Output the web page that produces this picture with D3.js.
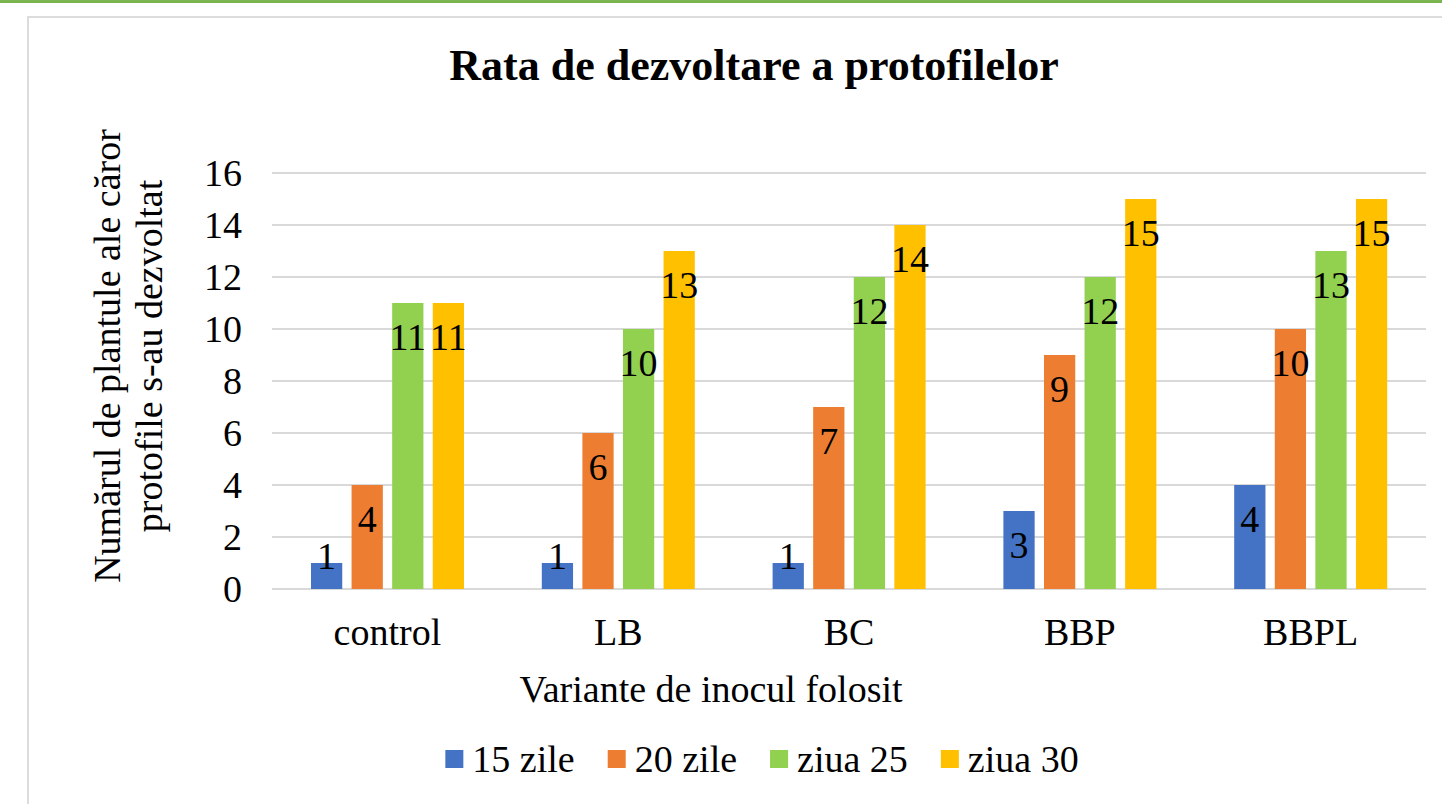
<!DOCTYPE html>
<html>
<head>
<meta charset="utf-8">
<script src="https://cdn.jsdelivr.net/npm/d3@7"></script>
<style>
  html, body { margin: 0; padding: 0; background: #fff; overflow: hidden; }
</style>
</head>
<body>
<div id="chart"></div>
<script>
// values
const categories = ["control", "LB", "BC", "BBP", "BBPL"];
const seriesNames = ["15 zile", "20 zile", "ziua 25", "ziua 30"];
const zile15 = [1, 1, 1, 3, 4];
const zile20 = [4, 6, 7, 9, 10];
const ziua25 = [11, 10, 12, 12, 13];
const ziua30 = [11, 13, 14, 15, 15];
const yTicks = [0, 2, 4, 6, 8, 10, 12, 14, 16];
const colors = ["#4472C4", "#ED7D31", "#92D050", "#FFC000"];

const FONT = "'Liberation Serif', 'Times New Roman', serif";

const allSeries = [zile15, zile20, ziua25, ziua30];
const rows = categories.map((c, i) => ({
    cat: c,
    vals: seriesNames.map((s, j) => ({ key: s, value: allSeries[j][i], color: colors[j] }))
}));

const W = 1442, H = 804;
const plot = { left: 272, right: 1426, top: 173, bottom: 589 };

const svg = d3.select("#chart").append("svg")
    .attr("width", W)
    .attr("height", H)
    .attr("font-family", FONT);

// green strip at top + chart frame
svg.append("rect").attr("x", 0).attr("y", 0).attr("width", W).attr("height", 3).attr("fill", "#7AB552");
svg.append("rect")
    .attr("x", 28).attr("y", 17)
    .attr("width", W + 50).attr("height", H + 50)
    .attr("fill", "#fff")
    .attr("stroke", "#DCDCDC")
    .attr("stroke-width", 2);

const y = d3.scaleLinear().domain([0, 16]).range([plot.bottom, plot.top]);
const x0 = d3.scaleBand().domain(categories).range([plot.left, plot.right]);
const x1 = d3.scaleBand().domain(seriesNames).range([39, 192]).paddingInner(0.23);

// gridlines
svg.append("g").attr("class", "grid")
    .selectAll("line").data(yTicks).join("line")
    .attr("x1", plot.left).attr("x2", plot.right)
    .attr("y1", d => y(d)).attr("y2", d => y(d))
    .attr("stroke", "#D9D9D9")
    .attr("stroke-width", 2);

// y axis labels
const yAxis = svg.append("g")
    .attr("transform", `translate(${plot.left},0)`)
    .call(d3.axisLeft(y).tickValues(yTicks).tickSize(0).tickPadding(30));
yAxis.attr("font-family", FONT);
yAxis.select(".domain").remove();
yAxis.selectAll("text")
    .style("font-family", FONT)
    .style("font-size", "38px")
    .attr("fill", "#000")
    .attr("dy", "0.34em");

// x axis labels
const xAxis = svg.append("g")
    .attr("transform", `translate(0,${plot.bottom})`)
    .call(d3.axisBottom(x0).tickSize(0).tickPadding(0));
xAxis.attr("font-family", FONT);
xAxis.select(".domain").remove();
xAxis.selectAll("text")
    .style("font-family", FONT)
    .style("font-size", "38px")
    .attr("fill", "#000")
    .attr("dy", null)
    .attr("y", 56);

// bars
const groups = svg.append("g").attr("class", "bars")
    .selectAll("g").data(rows).join("g")
    .attr("transform", d => `translate(${x0(d.cat)},0)`);

groups.selectAll("rect").data(d => d.vals).join("rect")
    .attr("x", d => x1(d.key))
    .attr("y", d => y(d.value))
    .attr("width", x1.bandwidth())
    .attr("height", d => y(0) - y(d.value))
    .attr("fill", d => d.color);

// data labels (inside end)
groups.selectAll("text").data(d => d.vals).join("text")
    .attr("x", d => x1(d.key) + x1.bandwidth() / 2)
    .attr("y", d => Math.min(y(d.value) + 47, y(0) - 20))
    .attr("text-anchor", "middle")
    .style("font-family", FONT)
    .style("font-size", "38px")
    .attr("fill", "#000")
    .text(d => d.value);

// title
svg.append("text")
    .attr("x", 754).attr("y", 80)
    .attr("text-anchor", "middle")
    .style("font-family", FONT)
    .style("font-size", "44px")
    .style("font-weight", "bold")
    .text("Rata de dezvoltare a protofilelor");

// axis titles
svg.append("text")
    .attr("x", 711).attr("y", 702)
    .attr("text-anchor", "middle")
    .style("font-family", FONT)
    .style("font-size", "38px")
    .text("Variante de inocul folosit");

const yTitle = svg.append("text")
    .attr("transform", "translate(0,356) rotate(-90)")
    .attr("text-anchor", "middle")
    .style("font-family", FONT)
    .style("font-size", "38px");
yTitle.append("tspan").attr("x", 0).attr("y", 120).text("Numărul de plantule ale căror");
yTitle.append("tspan").attr("x", 0).attr("y", 162).text("protofile s-au dezvoltat");

// legend
const legend = svg.append("g").attr("class", "legend");
const items = legend.selectAll("g").data(seriesNames).join("g");
items.append("rect")
    .attr("width", 18).attr("height", 18)
    .attr("y", 750)
    .attr("fill", (d, i) => colors[i]);
items.append("text")
    .attr("x", 27).attr("y", 772)
    .style("font-family", FONT)
    .style("font-size", "38px")
    .text(d => d);

let cursor = 0;
items.each(function() {
    const g = d3.select(this);
    const w = 27 + g.select("text").node().getComputedTextLength();
    g.attr("transform", `translate(${cursor},0)`);
    cursor += w + 33;
});
const legendWidth = cursor - 33;
legend.attr("transform", `translate(${762 - legendWidth / 2},0)`);
</script>
</body>
</html>
